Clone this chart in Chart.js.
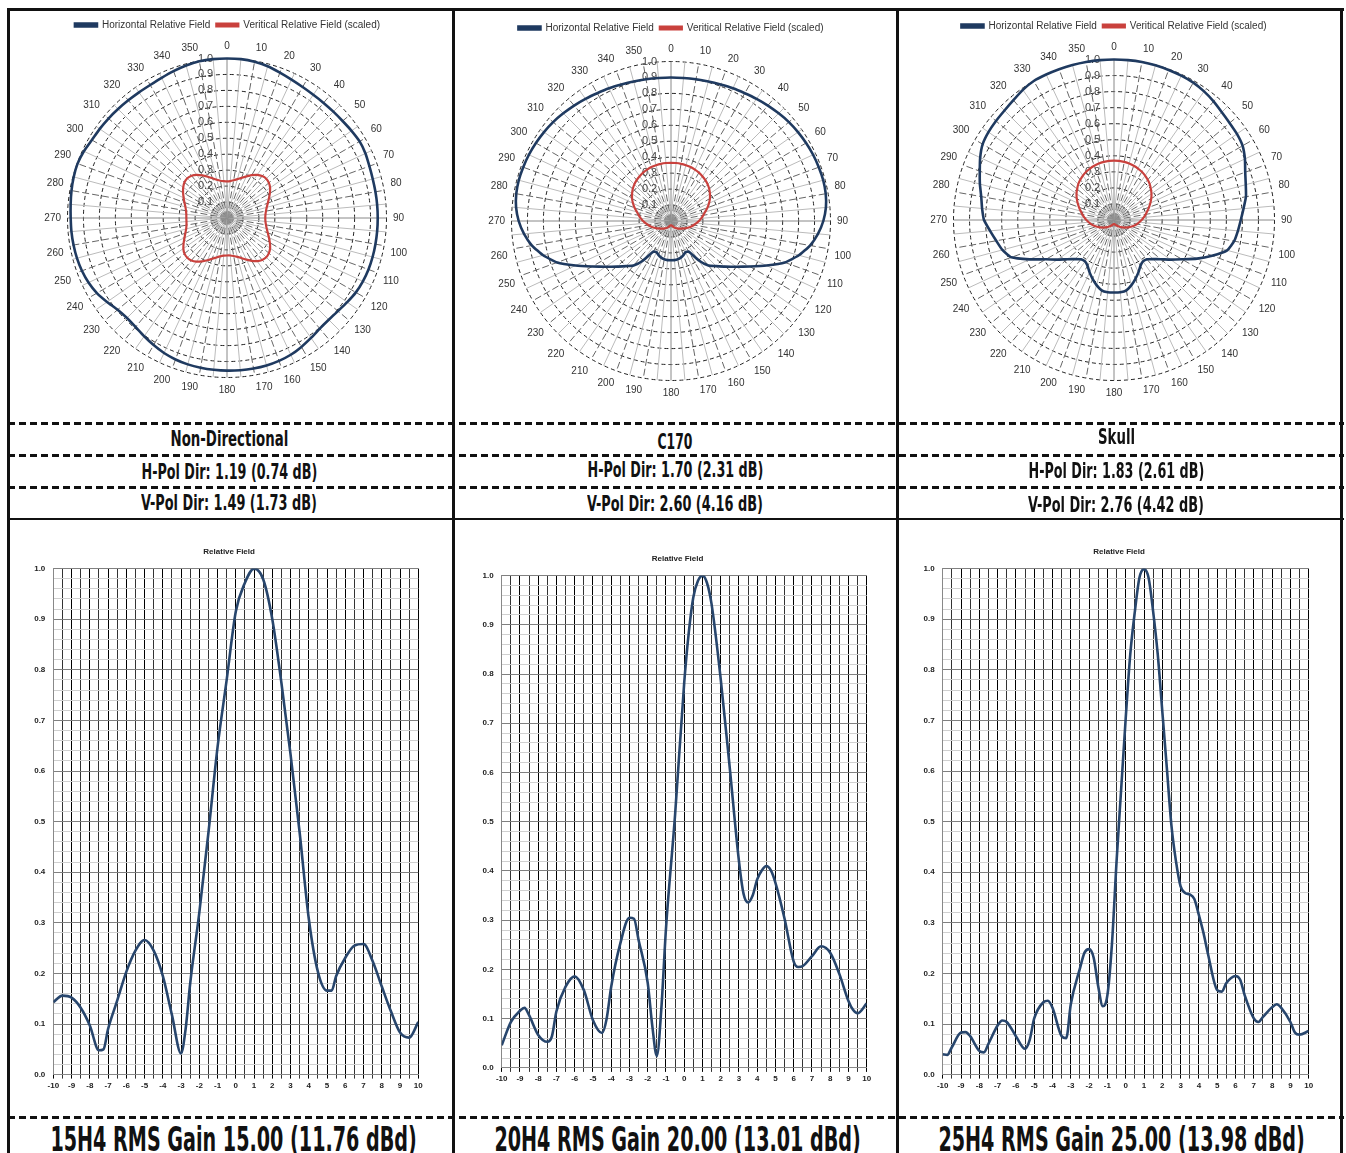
<!DOCTYPE html>
<html>
<head>
<meta charset="utf-8">
<script src="https://cdn.jsdelivr.net/npm/chart.js@4.4.1/dist/chart.umd.min.js"></script>
<style>
  html, body { margin:0; padding:0; background:#fff; }
  body { width:1346px; height:1153px; position:relative; overflow:hidden; font-family:"Liberation Sans", Arial, sans-serif; }
  canvas { position:absolute; }
  .vl { position:absolute; background:#111; width:3px; }
  .sl { position:absolute; background:#111; height:2px; }
  .dl { position:absolute; height:3px; left:8px; width:1336px;
        background: repeating-linear-gradient(to right, #111 0 7px, transparent 7px 11px); }
  .t { position:absolute; white-space:nowrap; font-family:"Liberation Sans Narrow","DejaVu Sans Condensed","Liberation Sans",sans-serif;
       font-weight:bold; color:#111; transform-origin:center center; line-height:1; }
</style>
</head>
<body>
<!-- frame -->
<div class="sl" style="left:8px; top:8px; width:1336px; height:3px;"></div>
<div class="vl" style="left:7px; top:8px; height:1145px;"></div>
<div class="vl" style="left:452px; top:8px; height:1145px;"></div>
<div class="vl" style="left:896px; top:8px; height:1145px;"></div>
<div class="vl" style="left:1340px; top:8px; height:1145px;"></div>
<div class="dl" style="top:422px;"></div>
<div class="dl" style="top:454px;"></div>
<div class="dl" style="top:486px;"></div>
<div class="sl" style="left:8px; top:518px; width:1336px;"></div>
<div class="dl" style="top:1116px;"></div>

<canvas id="p1" width="440" height="410" style="left:10px; top:14px;"></canvas>
<canvas id="p2" width="440" height="410" style="left:455px; top:17px;"></canvas>
<canvas id="p3" width="440" height="410" style="left:899px; top:15px;"></canvas>

<canvas id="l1" width="430" height="560" style="left:10px; top:540px;"></canvas>
<canvas id="l2" width="430" height="560" style="left:455px; top:540px;"></canvas>
<canvas id="l3" width="440" height="560" style="left:899px; top:540px;"></canvas>

<div id="texts"></div>

<script>
// ---------------- DATA ----------------
const angleLabels = ['0','5','10','15','20','25','30','35','40','45','50','55','60','65','70','75','80','85',
  '90','95','100','105','110','115','120','125','130','135','140','145','150','155','160','165','170','175',
  '180','185','190','195','200','205','210','215','220','225','230','235','240','245','250','255','260','265',
  '270','275','280','285','290','295','300','305','310','315','320','325','330','335','340','345','350','355'];

// Non-Directional
const ndHoriz = [1.0,1.0,0.995,0.985,0.97,0.957,0.948,0.943,0.942,0.943,0.946,0.953,0.96,0.958,0.95,0.946,0.945,0.945,
  0.945,0.945,0.945,0.945,0.944,0.94,0.933,0.92,0.908,0.902,0.905,0.918,0.933,0.946,0.953,0.957,0.958,0.958,
  0.957,0.955,0.953,0.95,0.944,0.934,0.92,0.905,0.892,0.887,0.895,0.918,0.942,0.958,0.968,0.974,0.977,0.979,
  0.98,0.984,0.99,0.995,0.997,0.99,0.978,0.974,0.97,0.966,0.963,0.962,0.963,0.97,0.98,0.99,0.998,1.0];
const ndVert = [0.23,0.232,0.24,0.252,0.268,0.288,0.31,0.33,0.343,0.348,0.343,0.33,0.31,0.29,0.272,0.258,0.248,0.242,
  0.24,0.242,0.248,0.258,0.272,0.29,0.31,0.33,0.343,0.348,0.343,0.33,0.31,0.288,0.268,0.252,0.242,0.236,
  0.235,0.237,0.244,0.256,0.272,0.292,0.314,0.334,0.348,0.352,0.348,0.334,0.314,0.294,0.278,0.265,0.258,0.255,
  0.255,0.256,0.261,0.27,0.284,0.3,0.318,0.335,0.348,0.352,0.346,0.33,0.308,0.285,0.265,0.248,0.237,0.232];

// C170
const c170Horiz = [0.9,0.9,0.902,0.905,0.91,0.918,0.925,0.935,0.945,0.955,0.965,0.972,0.978,0.983,0.986,0.988,0.985,0.975,
  0.955,0.925,0.885,0.83,0.76,0.66,0.57,0.5,0.445,0.4,0.365,0.3,0.222,0.215,0.228,0.238,0.244,0.246,
  0.246,0.246,0.244,0.238,0.228,0.215,0.222,0.3,0.365,0.4,0.445,0.5,0.57,0.66,0.76,0.83,0.885,0.925,
  0.955,0.975,0.985,0.988,0.986,0.983,0.978,0.972,0.965,0.955,0.945,0.935,0.925,0.918,0.91,0.905,0.902,0.9];
const c170Vert = [0.365,0.365,0.364,0.362,0.36,0.355,0.35,0.343,0.335,0.325,0.313,0.298,0.282,0.263,0.243,0.222,0.205,0.19,
  0.175,0.16,0.145,0.132,0.118,0.105,0.093,0.083,0.075,0.067,0.06,0.054,0.049,0.044,0.038,0.032,0.029,0.027,
  0.027,0.027,0.029,0.032,0.038,0.044,0.049,0.054,0.06,0.067,0.075,0.083,0.093,0.105,0.118,0.132,0.145,0.16,
  0.175,0.19,0.205,0.222,0.243,0.263,0.282,0.298,0.313,0.325,0.335,0.343,0.35,0.355,0.36,0.362,0.364,0.365];

// Skull
const skullHoriz = [1.0,1.0,1.0,0.998,0.995,0.992,0.988,0.978,0.965,0.95,0.94,0.935,0.925,0.9,0.87,0.85,0.835,0.81,
  0.79,0.775,0.76,0.73,0.65,0.57,0.49,0.43,0.38,0.345,0.32,0.315,0.33,0.36,0.39,0.42,0.445,0.452,
  0.452,0.452,0.445,0.42,0.39,0.36,0.33,0.315,0.32,0.345,0.38,0.43,0.49,0.58,0.68,0.72,0.745,0.775,
  0.81,0.825,0.84,0.865,0.89,0.92,0.945,0.955,0.96,0.965,0.975,0.99,1.0,1.0,1.0,1.0,1.0,1.0];
const skullVert = [0.37,0.37,0.368,0.365,0.36,0.354,0.347,0.338,0.327,0.315,0.3,0.285,0.268,0.25,0.232,0.215,0.2,0.186,
  0.172,0.158,0.145,0.132,0.118,0.105,0.093,0.082,0.072,0.063,0.055,0.048,0.043,0.038,0.034,0.03,0.027,0.025,
  0.025,0.025,0.027,0.03,0.034,0.038,0.043,0.048,0.055,0.063,0.072,0.082,0.093,0.105,0.118,0.132,0.145,0.158,
  0.172,0.186,0.2,0.215,0.232,0.25,0.268,0.285,0.3,0.315,0.327,0.338,0.347,0.354,0.36,0.365,0.368,0.37];

// Elevation patterns (relative field vs. depression angle)
const h15Angle = [-10,-9.5,-9,-8.5,-8,-7.5,-7.25,-7,-6.5,-6,-5.5,-5,-4.5,-4,-3.5,-3,-2.75,-2.5,-2,-1.5,-1,-0.5,0,0.5,1,1.5,2,2.5,3,3.5,4,4.5,5,5.25,5.5,6,6.5,7,7.5,8,8.5,9,9.5,10];
const h15Field = [0.143,0.156,0.152,0.132,0.097,0.048,0.05,0.09,0.146,0.203,0.245,0.266,0.245,0.195,0.118,0.042,0.09,0.18,0.32,0.478,0.647,0.78,0.915,0.972,1.0,0.979,0.9,0.774,0.633,0.478,0.308,0.203,0.166,0.166,0.195,0.231,0.255,0.258,0.224,0.174,0.125,0.083,0.073,0.104];

const h20Angle = [-10,-9.5,-9,-8.75,-8.5,-8,-7.5,-7.25,-7,-6.5,-6,-5.5,-5,-4.5,-4.25,-4,-3.5,-3,-2.75,-2.5,-2,-1.75,-1.5,-1.25,-1,-0.5,0,0.25,0.5,0.75,1,1.25,1.5,2,2.5,3,3.25,3.5,3.75,4,4.25,4.5,4.75,5,5.5,6,6.25,6.5,7,7.5,8,8.5,9,9.25,9.5,10];
const h20Field = [0.046,0.093,0.116,0.122,0.107,0.067,0.053,0.064,0.115,0.165,0.186,0.158,0.097,0.071,0.1,0.165,0.253,0.305,0.303,0.26,0.173,0.086,0.024,0.122,0.282,0.514,0.782,0.884,0.956,0.989,1.0,0.985,0.942,0.79,0.608,0.42,0.354,0.336,0.35,0.383,0.401,0.41,0.401,0.376,0.303,0.216,0.205,0.207,0.227,0.247,0.234,0.191,0.136,0.118,0.111,0.131];

const h25Angle = [-10,-9.75,-9.5,-9,-8.75,-8.5,-8,-7.75,-7.5,-7,-6.75,-6.5,-6,-5.5,-5.25,-5,-4.5,-4.25,-4,-3.5,-3.25,-3,-2.5,-2.25,-2,-1.75,-1.5,-1.25,-1,-0.75,-0.5,-0.25,0,0.25,0.5,0.75,1,1.25,1.5,1.75,2,2.25,2.5,2.75,3,3.25,3.5,3.75,4,4.25,4.5,5,5.25,5.5,6,6.25,6.5,7,7.25,7.5,8,8.25,8.5,9,9.25,9.5,10];
const h25Field = [0.04,0.039,0.054,0.083,0.084,0.076,0.047,0.044,0.061,0.097,0.107,0.104,0.076,0.051,0.068,0.111,0.143,0.146,0.132,0.076,0.072,0.139,0.21,0.241,0.248,0.231,0.174,0.135,0.157,0.259,0.421,0.563,0.704,0.831,0.915,0.982,0.999,0.982,0.915,0.831,0.718,0.605,0.492,0.421,0.372,0.359,0.356,0.347,0.315,0.28,0.238,0.167,0.164,0.181,0.195,0.188,0.157,0.111,0.104,0.114,0.133,0.139,0.132,0.104,0.083,0.079,0.086];

const patternNames = ['Non-Directional','C170','Skull'];
const hPolText = ['H-Pol Dir: 1.19 (0.74 dB)','H-Pol Dir: 1.70 (2.31 dB)','H-Pol Dir: 1.83 (2.61 dB)'];
const vPolText = ['V-Pol Dir: 1.49 (1.73 dB)','V-Pol Dir: 2.60 (4.16 dB)','V-Pol Dir: 2.76 (4.42 dB)'];
const gainText = ['15H4 RMS Gain 15.00 (11.76 dBd)','20H4 RMS Gain 20.00 (13.01 dBd)','25H4 RMS Gain 25.00 (13.98 dBd)'];
const seriesNames = ['Horizontal Relative Field','Veritical Relative Field (scaled)'];
const elevTitle = 'Relative Field';

// ---------------- CHARTS ----------------
Chart.defaults.font.family = '"Liberation Sans", Arial, sans-serif';
const FIG = '\u2007\u2007\u2007\u2007\u2007\u2007\u2007';

function polarChart(id, h, v, pad) {
  new Chart(document.getElementById(id), {
    type: 'radar',
    data: {
      labels: angleLabels,
      datasets: [
        { label: seriesNames[0], data: h, borderColor: '#1f3a60', backgroundColor: '#1f3a60',
          borderWidth: 2.6, pointRadius: 0, fill: false, tension: 0.15 },
        { label: seriesNames[1], data: v, borderColor: '#c9413d', backgroundColor: '#c9413d',
          borderWidth: 2.2, pointRadius: 0, fill: false, tension: 0.15 }
      ]
    },
    options: {
      responsive: false, animation: false,
      layout: { padding: pad },
      plugins: {
        legend: { position: 'top',
          labels: { boxWidth: 22, boxHeight: 3, padding: 6, color: '#333', font: { size: 10 } } },
        tooltip: { enabled: false }
      },
      scales: {
        r: {
          min: 0, max: 1,
          ticks: { stepSize: 0.1, showLabelBackdrop: false, backdropPadding: 0, color: '#444', font: { size: 11 },
                   callback: (val) => val.toFixed(1) + FIG },
          grid: { circular: true, color: '#222', lineWidth: 1 },
          border: { dash: [4, 3] },
          angleLines: {
            color: (c) => (c.index % 18 === 0 ? '#888' : (c.index % 2 === 0 ? '#666' : '#bbb')),
            lineWidth: 1,
            borderDash: (c) => (c.index % 18 === 0 ? [] : (c.index % 2 === 0 ? [7, 3] : []))
          },
          pointLabels: { color: '#333', font: { size: 10 }, padding: 1,
                         callback: (lab, i) => (i % 2 === 0 ? lab : '') }
        }
      }
    }
  });
}

function lineChart(id, xs, ys, o) {
  new Chart(document.getElementById(id), {
    type: 'line',
    data: { datasets: [{ data: xs.map((x, i) => ({ x: x, y: ys[i] })), borderColor: '#28466d',
      borderWidth: 2.6, pointRadius: 0, fill: false, cubicInterpolationMode: 'monotone' }] },
    options: {
      responsive: false, animation: false,
      layout: { padding: { left: 0, right: o.padR, top: 0, bottom: 0 } },
      plugins: {
        legend: { display: false }, tooltip: { enabled: false },
        title: { display: true, fullSize: false, text: elevTitle + '\u2007\u2007\u2007', color: '#222',
                 font: { size: 8, weight: 'bold' }, padding: { top: o.tTop, bottom: 12 } }
      },
      scales: {
        x: {
          type: 'linear', min: -10, max: 10,
          ticks: { stepSize: 0.5, autoSkip: false, maxRotation: 0, color: '#222',
                   font: { size: 8, weight: 'bold' }, padding: 2,
                   callback: (val) => (Math.abs(val - Math.round(val)) < 1e-6 ? String(Math.round(val)) : '') },
          grid: { color: (c) => (Math.abs(c.tick.value - Math.round(c.tick.value)) < 1e-6 ? '#000' : '#333'),
                  lineWidth: 1, tickLength: 4 },
          border: { color: '#888' },
          afterFit: (s) => { s.height = o.xH; }
        },
        y: {
          min: 0, max: 1,
          ticks: { stepSize: 0.02, autoSkip: false, color: '#222', font: { size: 8, weight: 'bold' }, padding: 8,
                   callback: (val) => (Math.abs(val * 10 - Math.round(val * 10)) < 1e-6 ? val.toFixed(1) : '') },
          grid: { color: (c) => (Math.abs(c.tick.value * 10 - Math.round(c.tick.value * 10)) < 1e-6 ? '#808080' : '#d0d0d0'),
                  lineWidth: 1, drawTicks: false },
          border: { color: '#888' },
          afterFit: (s) => { s.width = o.yW; }
        }
      }
    }
  });
}

polarChart('p1', ndHoriz, ndVert, { left: 0, right: 5, top: 0, bottom: 27 });
polarChart('p2', c170Horiz, c170Vert, { left: 0, right: 8, top: 0, bottom: 27 });
polarChart('p3', skullHoriz, skullVert, { left: 0, right: 10, top: 0, bottom: 25 });

lineChart('l1', h15Angle, h15Field, { padR: 21.7, tTop: 7, xH: 25.4, yW: 43.3 });
lineChart('l2', h20Angle, h20Field, { padR: 18.3, tTop: 14, xH: 32.1, yW: 46.7 });
lineChart('l3', h25Angle, h25Field, { padR: 30.3, tTop: 7, xH: 25.4, yW: 43.7 });

// ---------------- TEXT ROWS ----------------
const texts = document.getElementById('texts');
function addText(str, cx, cy, size, targetW) {
  const d = document.createElement('div');
  d.className = 't';
  d.textContent = str;
  d.style.fontSize = size + 'px';
  texts.appendChild(d);
  const w = d.offsetWidth, hgt = d.offsetHeight;
  d.style.left = (cx - w / 2) + 'px';
  d.style.top = (cy - hgt / 2) + 'px';
  d.style.transform = 'scaleX(' + (targetW / w).toFixed(3) + ')';
}
const colCx = [229, 675, 1116];
const nameCy = [439, 442, 437];
const nameW = [118, 35, 37];
const hCy = [472, 470, 471];
const vCy = [503, 504, 505];
const gainCx = [233, 677, 1121];
for (let i = 0; i < 3; i++) {
  addText(patternNames[i], colCx[i], nameCy[i], 22, nameW[i]);
  addText(hPolText[i], colCx[i], hCy[i], 21, 176);
  addText(vPolText[i], colCx[i], vCy[i], 21, 176);
  addText(gainText[i], gainCx[i], 1139, 34, 366);
}
</script>
</body>
</html>
